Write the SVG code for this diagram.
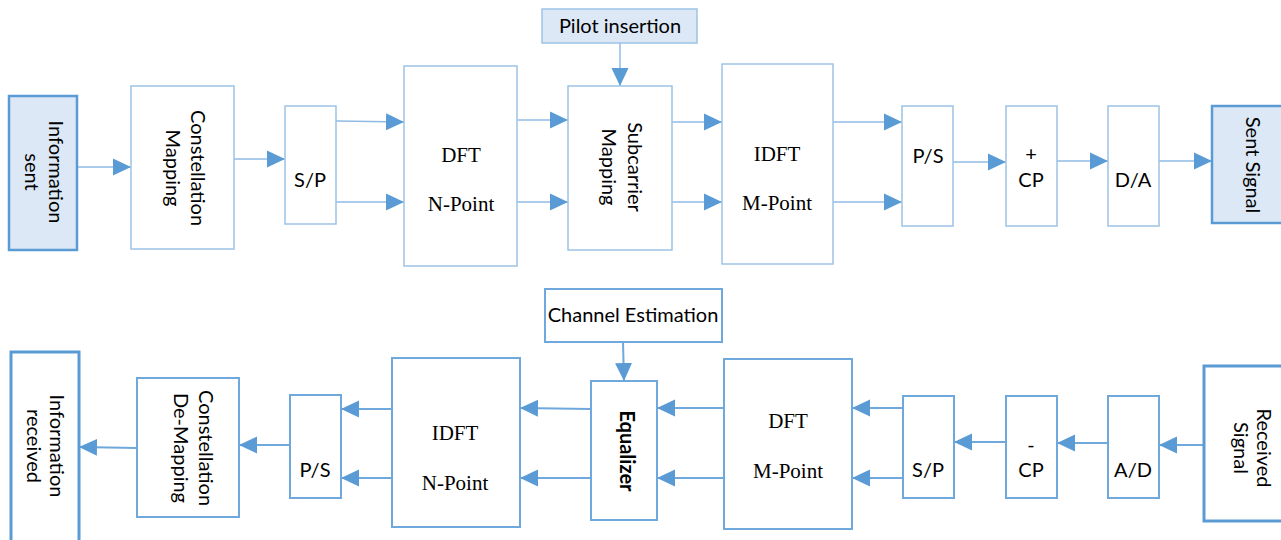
<svg xmlns="http://www.w3.org/2000/svg" width="1281" height="540" viewBox="0 0 1281 540">
<style>
  .box{fill:#ffffff;stroke:#9dc3e6;stroke-width:1.5}
  .box2{fill:#ffffff;stroke:#6fa8dc;stroke-width:2}
  .term{fill:#dce8f6;stroke:#5b9bd5;stroke-width:2.5}
  .term2{fill:#ffffff;stroke:#5b9bd5;stroke-width:3}
  .pil{fill:#dce8f6;stroke:#9dc3e6;stroke-width:1.5}
  .s{font-family:Lato,"Liberation Sans",sans-serif;font-size:20px;fill:#000;text-anchor:middle}
  .b{font-weight:bold}
  .r{font-family:"Liberation Serif","Times New Roman",serif;font-size:21px;fill:#000;text-anchor:middle}
  .c line{stroke:#8fbbe3;stroke-width:1.5;marker-end:url(#ah)}
  .c2 line{stroke:#6fa8dc;stroke-width:2;marker-end:url(#ah)}
</style>
<defs>
  <marker id="ah" markerUnits="userSpaceOnUse" markerWidth="18" markerHeight="18" refX="18" refY="8.5" orient="auto" viewBox="0 0 18 17">
    <path d="M0,0 L18,8.5 L0,17 z" fill="#5b9bd5"/>
  </marker>
</defs>

<g id="connectors">
  <g class="c">
    <line x1="77" y1="167" x2="131" y2="167"/>
    <line x1="234" y1="159" x2="285" y2="159"/>
    <line x1="336" y1="121" x2="404" y2="122"/>
    <line x1="336" y1="202" x2="404" y2="202"/>
    <line x1="517" y1="120" x2="568" y2="120"/>
    <line x1="517" y1="202" x2="568" y2="202"/>
    <line x1="672" y1="122" x2="722" y2="122"/>
    <line x1="672" y1="202" x2="722" y2="202"/>
    <line x1="833" y1="122" x2="902" y2="122"/>
    <line x1="833" y1="202" x2="902" y2="202"/>
    <line x1="953" y1="162" x2="1006" y2="162"/>
    <line x1="1057" y1="161" x2="1108" y2="161"/>
    <line x1="1159" y1="161" x2="1212" y2="161"/>
    <line x1="620" y1="43" x2="620" y2="86"/>
  </g>
  <g class="c2">
    <line x1="1203" y1="445" x2="1159" y2="445"/>
    <line x1="1108" y1="443" x2="1057" y2="443"/>
    <line x1="1006" y1="442" x2="954" y2="442"/>
    <line x1="903" y1="408" x2="852" y2="408"/>
    <line x1="903" y1="478" x2="852" y2="478"/>
    <line x1="724" y1="408" x2="657" y2="408"/>
    <line x1="724" y1="478" x2="657" y2="478"/>
    <line x1="591" y1="409" x2="520" y2="408"/>
    <line x1="591" y1="478" x2="520" y2="478"/>
    <line x1="392" y1="409" x2="341" y2="409"/>
    <line x1="392" y1="478" x2="341" y2="478"/>
    <line x1="290" y1="445" x2="239" y2="445"/>
    <line x1="137" y1="448" x2="79" y2="447"/>
    <line x1="623" y1="342" x2="624" y2="381"/>
  </g>
</g>

<g id="info-sent">
  <rect class="term" x="9" y="96" width="68" height="154"/>
  <text class="s" transform="translate(42,172) rotate(90)"><tspan x="0" y="-7">Information</tspan><tspan x="0" y="17">sent</tspan></text>
</g>
<g id="constellation-mapping">
  <rect class="box" x="131" y="86" width="103" height="163"/>
  <text class="s" transform="translate(183,168) rotate(90)"><tspan x="0" y="-8">Constellation</tspan><tspan x="0" y="17">Mapping</tspan></text>
</g>
<g id="sp-top">
  <rect class="box" x="285" y="106" width="51" height="118"/>
  <text class="s" x="310" y="187">S/P</text>
</g>
<g id="dft-n">
  <rect class="box" x="404" y="66" width="113" height="200"/>
  <text class="r" x="461" y="162">DFT</text>
  <text class="r" x="461" y="211">N-Point</text>
</g>
<g id="pilot-insertion">
  <rect class="pil" x="542" y="9" width="155" height="34"/>
  <text class="s" x="620" y="33">Pilot insertion</text>
</g>
<g id="subcarrier-mapping">
  <rect class="box" x="568" y="86" width="104" height="164"/>
  <text class="s" transform="translate(619,167) rotate(90)"><tspan x="0" y="-9">Subcarrier</tspan><tspan x="0" y="17">Mapping</tspan></text>
</g>
<g id="idft-m">
  <rect class="box" x="722" y="64" width="111" height="200"/>
  <text class="r" x="777" y="161">IDFT</text>
  <text class="r" x="777" y="210">M-Point</text>
</g>
<g id="ps-top">
  <rect class="box" x="902" y="106" width="51" height="120"/>
  <text class="s" x="928" y="163">P/S</text>
</g>
<g id="add-cp">
  <rect class="box" x="1006" y="106" width="51" height="120"/>
  <text class="s" x="1031" y="161">+</text>
  <text class="s" x="1031" y="187">CP</text>
</g>
<g id="da">
  <rect class="box" x="1108" y="106" width="51" height="120"/>
  <text class="s" x="1133" y="187">D/A</text>
</g>
<g id="sent-signal">
  <rect class="term" x="1212" y="106" width="72" height="117"/>
  <text class="s" transform="translate(1245,165) rotate(90)"><tspan x="0" y="-1">Sent Signal</tspan></text>
</g>

<g id="info-received">
  <rect class="term2" x="11" y="352" width="68" height="200"/>
  <text class="s" transform="translate(45,446) rotate(90)"><tspan x="0" y="-5">Information</tspan><tspan x="0" y="18">received</tspan></text>
</g>
<g id="constellation-demapping">
  <rect class="box2" x="137" y="378" width="102" height="139"/>
  <text class="s" transform="translate(192,448) rotate(90)"><tspan x="0" y="-7">Constellation</tspan><tspan x="0" y="18">De-Mapping</tspan></text>
</g>
<g id="ps-bottom">
  <rect class="box2" x="290" y="395" width="51" height="103"/>
  <text class="s" x="315" y="477">P/S</text>
</g>
<g id="idft-n">
  <rect class="box2" x="392" y="358" width="128" height="169"/>
  <text class="r" x="455" y="440">IDFT</text>
  <text class="r" x="455" y="490">N-Point</text>
</g>
<g id="channel-estimation">
  <rect class="box2" x="545" y="289" width="177" height="53"/>
  <text class="s" x="633" y="322">Channel Estimation</text>
</g>
<g id="equalizer">
  <rect class="box2" x="591" y="381" width="66" height="139"/>
  <text class="s b" transform="translate(620,451) rotate(90)">Equalizer</text>
</g>
<g id="dft-m">
  <rect class="box2" x="724" y="359" width="128" height="170"/>
  <text class="r" x="788" y="428">DFT</text>
  <text class="r" x="788" y="478">M-Point</text>
</g>
<g id="sp-bottom">
  <rect class="box2" x="903" y="396" width="51" height="102"/>
  <text class="s" x="928" y="477">S/P</text>
</g>
<g id="remove-cp">
  <rect class="box2" x="1006" y="396" width="51" height="102"/>
  <text class="s" x="1031" y="452">-</text>
  <text class="s" x="1031" y="477">CP</text>
</g>
<g id="ad">
  <rect class="box2" x="1108" y="396" width="51" height="102"/>
  <text class="s" x="1133" y="477">A/D</text>
</g>
<g id="received-signal">
  <rect class="term2" x="1204" y="366" width="80" height="155"/>
  <text class="s" transform="translate(1251,448) rotate(90)"><tspan x="0" y="-6">Received</tspan><tspan x="0" y="17">Signal</tspan></text>
</g>
</svg>
